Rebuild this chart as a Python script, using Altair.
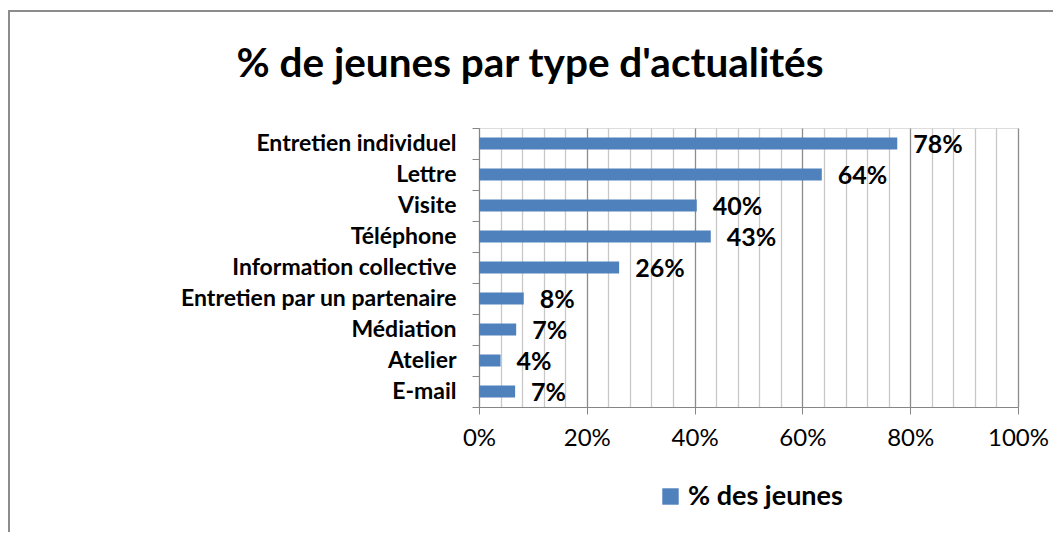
import altair as alt
import pandas as pd

categories = [
    "Entretien individuel",
    "Lettre",
    "Visite",
    "Téléphone",
    "Information collective",
    "Entretien par un partenaire",
    "Médiation",
    "Atelier",
    "E-mail",
]
values = [0.776, 0.636, 0.404, 0.43, 0.26, 0.083, 0.069, 0.04, 0.067]
series_name = "% des jeunes"
title_text = "% de jeunes par type d'actualités"
x_grid_values = [0, 0.04, 0.08, 0.12, 0.16, 0.2, 0.24, 0.28, 0.32, 0.36, 0.4,
                 0.44, 0.48, 0.52, 0.56, 0.6, 0.64, 0.68, 0.72, 0.76, 0.8,
                 0.84, 0.88, 0.92, 0.96, 1.0]
x_major_labels = ["0%", "20%", "40%", "60%", "80%", "100%"]

df = pd.DataFrame({"cat": categories, "value": values, "serie": [series_name] * len(categories)})

FONT = "Lato"
major_list = "[" + ",".join(f"'{s}'" for s in x_major_labels) + "]"
major = f"indexof({major_list}, format(datum.value, '.0%')) >= 0"

x_axis = alt.Axis(
    title=None,
    values=x_grid_values,
    tickCount=40,
    format=".0%",
    labelExpr=f"{major} ? datum.label : ''",
    labelOverlap=False,
    labelFlush=False,
    labelBound=False,
    labelFont=FONT,
    labelFontSize=24,
    labelColor="black",
    labelPadding=12,
    tickSize=7,
    tickColor="#868686",
    tickOpacity={"condition": {"test": major, "value": 1}, "value": 0},
    domainColor="#868686",
    grid=True,
    gridColor={"condition": {"test": major, "value": "#8c8c8c"}, "value": "#c8c8c8"},
    gridWidth=1.3,
)

y_axis = alt.Axis(
    title=None,
    labelFont=FONT,
    labelFontWeight="bold",
    labelFontSize=23,
    labelLimit=0,
    labelColor="black",
    labelPadding=16,
    tickBand="extent",
    tickSize=7,
    tickColor="#868686",
    domainColor="#868686",
    grid=False,
)

base = alt.Chart(df).encode(
    y=alt.Y("cat:N", sort=categories, axis=y_axis, scale=alt.Scale(paddingInner=0, paddingOuter=0)),
)

bars = base.mark_bar(size=12).encode(
    x=alt.X("value:Q", scale=alt.Scale(domain=[0, 1], nice=False), axis=x_axis),
    color=alt.Color(
        "serie:N",
        scale=alt.Scale(range=["#4F81BD"]),
        legend=alt.Legend(
            title=None,
            orient="none",
            legendX=178,
            legendY=355,
            symbolType="square",
            symbolSize=270,
            symbolStrokeWidth=0,
            labelFont=FONT,
            labelFontWeight="bold",
            labelFontSize=27,
            labelColor="black",
            padding=0,
            labelOffset=4,
        ),
    ),
)

labels = base.mark_text(
    align="left", baseline="middle", dx=16, dy=1,
    font=FONT, fontWeight="bold", fontSize=25, color="black",
).encode(
    x=alt.X("value:Q"),
    text=alt.Text("value:Q", format=".0%"),
)

frame_data = alt.Data(values=[{"title": title_text}])
left_line = alt.Chart(frame_data).mark_rule(color="#8c8c8c", strokeWidth=2).encode(
    x=alt.value(-470), y=alt.value(-118), y2=alt.value(420)
)
top_line = alt.Chart(frame_data).mark_rule(color="#8c8c8c", strokeWidth=2).encode(
    x=alt.value(-471), x2=alt.value(600), y=alt.value(-117)
)
title = alt.Chart(frame_data).mark_text(
    align="center", baseline="alphabetic", font=FONT, fontWeight="bold",
    fontSize=40.5, color="black",
).encode(
    x=alt.value(51), y=alt.value(-51), text="title:N"
)

chart = alt.layer(bars, labels, left_line, top_line, title).properties(
    width=539,
    height=279,
    autosize=alt.AutoSizeParams(type="none"),
    padding={"left": 471, "top": 120, "right": 35, "bottom": 125},
).configure_view(stroke=None).configure(background="white")

chart.save("out.html", embed_options={"renderer": "svg", "actions": False})
